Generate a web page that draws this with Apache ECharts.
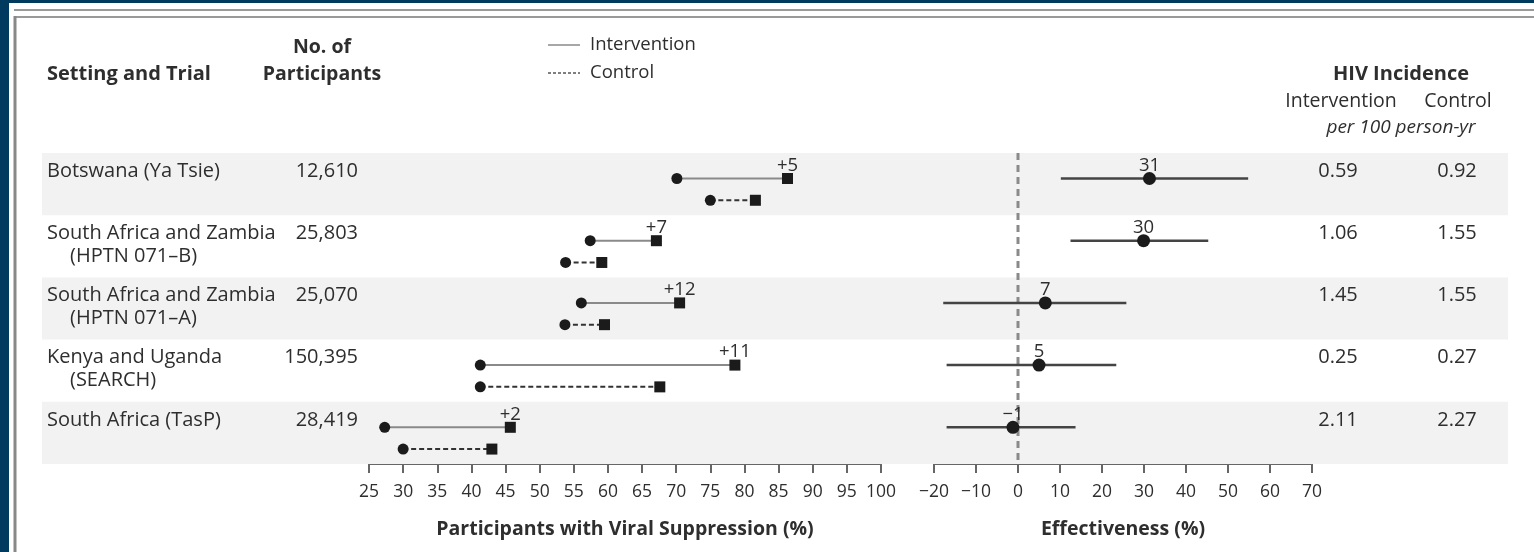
<!DOCTYPE html>
<html><head><meta charset="utf-8">
<script src="https://cdn.jsdelivr.net/npm/echarts@6/dist/echarts.min.js"></script>
<style>html,body{margin:0;padding:0;background:#003a5f}#c{width:1534px;height:552px}</style>
</head><body><div id="c"></div>
<script>
// ---- data ----
const trialLine1 = ['Botswana (Ya Tsie)', 'South Africa and Zambia', 'South Africa and Zambia', 'Kenya and Uganda', 'South Africa (TasP)'];
const trialLine2 = ['', '(HPTN 071\u2013B)', '(HPTN 071\u2013A)', '(SEARCH)', ''];
const participants = ['12,610', '25,803', '25,070', '150,395', '28,419'];
const interventionBaseline = [70.1, 57.4, 56.1, 41.3, 27.3];
const interventionEndline = [86.3, 67.1, 70.5, 78.6, 45.7];
const controlBaseline = [75.0, 53.8, 53.7, 41.3, 30.0];
const controlEndline = [81.6, 59.1, 59.5, 67.6, 43.0];
const differenceLabels = ['+5', '+7', '+12', '+11', '+2'];
const effectiveness = [31.3, 29.9, 6.5, 5.0, -1.2];
const effectivenessLabels = ['31', '30', '7', '5', '\u22121'];
const effectivenessLow = [10.2, 12.5, -17.8, -17.0, -17.0];
const effectivenessHigh = [54.8, 45.3, 25.8, 23.4, 13.7];
const incidenceIntervention = ['0.59', '1.06', '1.45', '0.25', '2.11'];
const incidenceControl = ['0.92', '1.55', '1.55', '0.27', '2.27'];
const suppressionTicks = {min: 25, max: 100, interval: 5};
const effectTicks = {min: -20, max: 70, interval: 10};

// ---- styles ----
const FONT = '"Open Sans", "Noto Sans", sans-serif';
const TXT = '#2e2e2e';
const MARK = '#1b1b1b';
const ROW_INT = 0.41, ROW_CTRL = 0.76, ROW_T1 = 0.29, ROW_T2 = 0.66;
const rows = trialLine1.map((_, i) => i);

const chart = echarts.init(document.getElementById('c'));

function txt(x, y, text, opt) {
  opt = opt || {};
  const align = opt.align || 'left';
  return {
    type: 'text',
    style: {
      x: x, y: y, text: text,
      textAlign: align, align: align,
      textVerticalAlign: 'middle', verticalAlign: 'middle',
      font: (opt.italic ? 'italic ' : '') + (opt.bold ? 'bold ' : '') + (opt.size || 19.5) + 'px ' + FONT,
      fill: opt.color || TXT
    }
  };
}

function dumbbell(name, base, end, offset, dashed, labels) {
  return {
    type: 'custom', name: name, xAxisIndex: 1, yAxisIndex: 1, z: 6,
    data: rows.map(i => [base[i], end[i], i]),
    renderItem: function (params, api) {
      const y = api.value(2) + offset;
      const p0 = api.coord([api.value(0), y]);
      const p1 = api.coord([api.value(1), y]);
      const children = [
        {type: 'line', shape: {x1: p0[0], y1: p0[1], x2: p1[0], y2: p1[1]},
         style: {stroke: dashed ? '#333' : '#8a8a8a', lineWidth: 2, lineDash: dashed ? [5, 3] : null}},
        {type: 'circle', shape: {cx: p0[0], cy: p0[1], r: 5.5}, style: {fill: MARK}},
        {type: 'rect', shape: {x: p1[0] - 5.5, y: p1[1] - 5.5, width: 11, height: 11}, style: {fill: MARK}}
      ];
      if (labels) {
        children.push(txt(p1[0], p1[1] - 13, labels[params.dataIndex], {align: 'center', size: 18.5}));
      }
      return {type: 'group', children: children};
    }
  };
}

const axisCommon = {
  type: 'value', position: 'bottom',
  axisLine: {show: true, onZero: false, lineStyle: {color: '#666', width: 2}},
  axisTick: {show: true, length: 9, lineStyle: {color: '#666', width: 2}},
  splitLine: {show: false},
  axisLabel: {color: TXT, fontSize: 17.5, fontFamily: FONT, margin: 19,
              formatter: v => String(v).replace('-', '\u2212')},
  nameLocation: 'middle', nameGap: 55,
  nameTextStyle: {color: TXT, fontSize: 19.5, fontWeight: 'bold', fontFamily: FONT}
};

const option = {
  backgroundColor: '#003a5f',
  animation: false,
  textStyle: {fontFamily: FONT},
  grid: [
    {left: 42, top: 153, width: 1466, height: 311},
    {left: 369, top: 153, width: 512, height: 311},
    {left: 934, top: 153, width: 378, height: 311}
  ],
  xAxis: [
    {gridIndex: 0, type: 'value', min: 0, max: 1, show: false},
    Object.assign({}, axisCommon, {gridIndex: 1, min: suppressionTicks.min, max: suppressionTicks.max, interval: suppressionTicks.interval,
      name: 'Participants with Viral Suppression (%)'}),
    Object.assign({}, axisCommon, {gridIndex: 2, min: effectTicks.min, max: effectTicks.max, interval: effectTicks.interval,
      name: 'Effectiveness (%)'})
  ],
  yAxis: [0, 1, 2].map(g => ({gridIndex: g, type: 'value', min: 0, max: 5, inverse: true, show: false})),
  graphic: [
    {type: 'rect', shape: {x: 9, y: 3, width: 1525, height: 549}, style: {fill: '#fff'}, z: -10},
    {type: 'line', shape: {x1: 14, y1: 10, x2: 1534, y2: 10}, style: {stroke: '#999', lineWidth: 2}, z: -9},
    {type: 'line', shape: {x1: 15, y1: 17, x2: 1534, y2: 17}, style: {stroke: '#999', lineWidth: 2}, z: -9},
    {type: 'line', shape: {x1: 15, y1: 16, x2: 15, y2: 552}, style: {stroke: '#888', lineWidth: 3}, z: -9},
    Object.assign(txt(47, 74, 'Setting and Trial', {bold: true, size: 20}), {z: 10}),
    Object.assign(txt(322, 47, 'No. of', {bold: true, align: 'center'}), {z: 10}),
    Object.assign(txt(322, 74, 'Participants', {bold: true, align: 'center'}), {z: 10}),
    {type: 'line', shape: {x1: 548, y1: 45, x2: 580, y2: 45}, style: {stroke: '#8a8a8a', lineWidth: 1.5}, z: 10},
    {type: 'line', shape: {x1: 548, y1: 73, x2: 580, y2: 73}, style: {stroke: '#555', lineWidth: 1.5, lineDash: [3, 2]}, z: 10},
    Object.assign(txt(590, 45, 'Intervention', {size: 18.5}), {z: 10}),
    Object.assign(txt(590, 73, 'Control', {size: 18.5}), {z: 10}),
    Object.assign(txt(1401, 74, 'HIV Incidence', {bold: true, align: 'center', size: 20}), {z: 10}),
    Object.assign(txt(1341, 101, 'Intervention', {align: 'center', size: 19.5}), {z: 10}),
    Object.assign(txt(1458, 101, 'Control', {align: 'center', size: 19.5}), {z: 10}),
    Object.assign(txt(1401, 128, 'per 100 person-yr', {italic: true, align: 'center', size: 19}), {z: 10})
  ],
  series: [
    { // alternating row bands
      type: 'custom', xAxisIndex: 0, yAxisIndex: 0, z: 1, silent: true,
      data: rows.filter(i => i % 2 === 0).map(i => [i]),
      renderItem: function (params, api) {
        const a = api.coord([0, api.value(0)]);
        const b = api.coord([1, api.value(0) + 1]);
        return {type: 'rect', shape: {x: a[0], y: a[1], width: b[0] - a[0], height: b[1] - a[1]}, style: {fill: '#f2f2f2'}};
      }
    },
    { // text columns
      type: 'custom', xAxisIndex: 0, yAxisIndex: 0, z: 4, silent: true,
      data: rows.map(i => [i]),
      renderItem: function (params, api) {
        const i = params.dataIndex;
        const y1 = api.coord([0, api.value(0) + ROW_T1])[1];
        const y2 = api.coord([0, api.value(0) + ROW_T2])[1];
        const ch = [
          txt(47, y1, trialLine1[i], {size: 20}),
          txt(358, y1, participants[i], {align: 'right', size: 20}),
          txt(1338, y1, incidenceIntervention[i], {align: 'center', size: 20}),
          txt(1457, y1, incidenceControl[i], {align: 'center', size: 20})
        ];
        if (trialLine2[i]) ch.push(txt(70, y2, trialLine2[i], {size: 20}));
        return {type: 'group', children: ch};
      }
    },
    dumbbell('Intervention', interventionBaseline, interventionEndline, ROW_INT, false, differenceLabels),
    dumbbell('Control', controlBaseline, controlEndline, ROW_CTRL, true, null),
    { // null-effect reference line
      type: 'line', xAxisIndex: 2, yAxisIndex: 2, z: 3, symbol: 'none', silent: true, clip: false,
      data: [[0, 0], [0, 5]],
      lineStyle: {color: '#8a8a8a', width: 3, type: [7, 5]}
    },
    {
      type: 'custom', name: 'Effectiveness', xAxisIndex: 2, yAxisIndex: 2, z: 6,
      data: rows.map(i => [effectivenessLow[i], effectivenessHigh[i], effectiveness[i], i]),
      renderItem: function (params, api) {
        const y = api.value(3) + ROW_INT;
        const a = api.coord([api.value(0), y]);
        const b = api.coord([api.value(1), y]);
        const p = api.coord([api.value(2), y]);
        return {type: 'group', children: [
          {type: 'line', shape: {x1: a[0], y1: a[1], x2: b[0], y2: b[1]}, style: {stroke: '#444', lineWidth: 2.5}},
          {type: 'circle', shape: {cx: p[0], cy: p[1], r: 6.5}, style: {fill: MARK}},
          txt(p[0], p[1] - 13, effectivenessLabels[params.dataIndex], {align: 'center', size: 18.5})
        ]};
      }
    }
  ]
};
chart.setOption(option);
</script>
</body></html>
